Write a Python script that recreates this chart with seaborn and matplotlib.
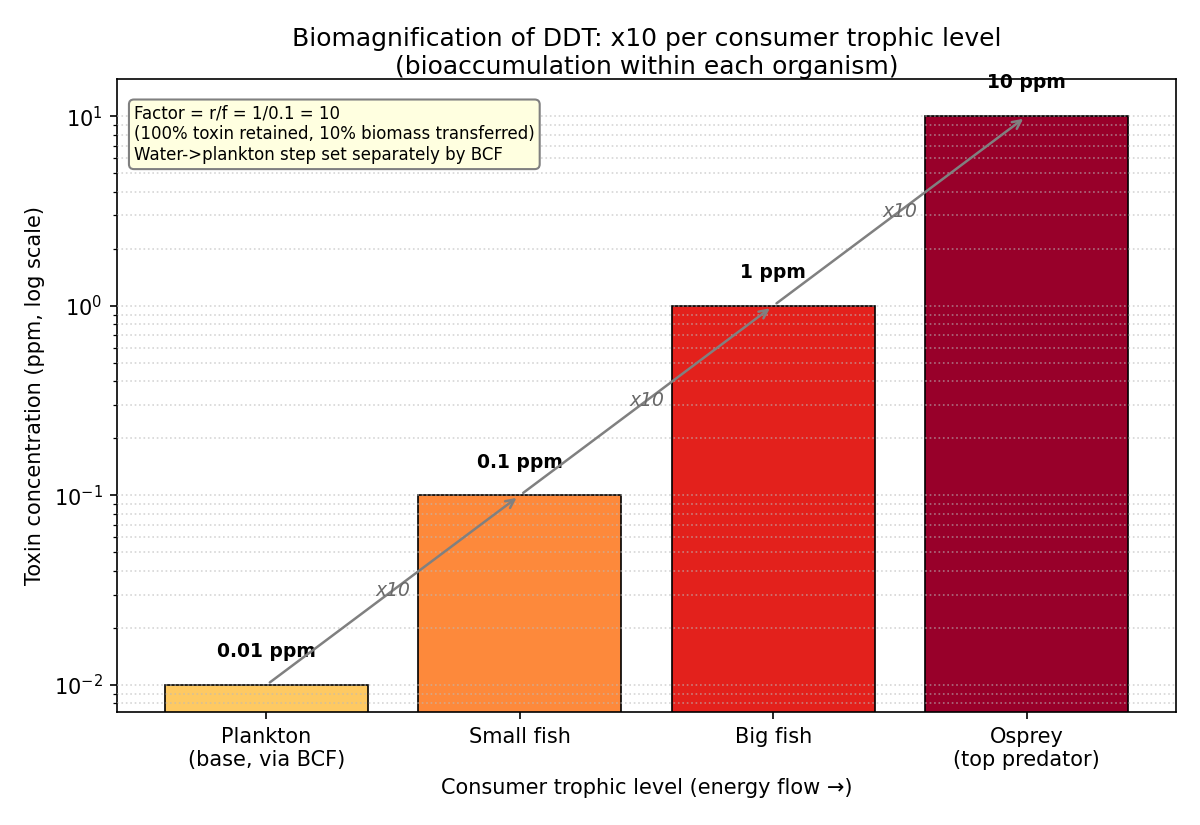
import numpy as np
import pandas as pd
import matplotlib
matplotlib.use('Agg')
import matplotlib.pyplot as plt
import seaborn as sns

# dados
niveis = ['Plankton\n(base, via BCF)', 'Small fish', 'Big fish', 'Osprey\n(top predator)']
ppm = [0.01, 0.1, 1, 10]
rotulos = ['0.01 ppm', '0.1 ppm', '1 ppm', '10 ppm']
cores = ['#fec962', '#fd893b', '#e3211c', '#98002a']

df = pd.DataFrame({'nivel': niveis, 'ppm': ppm})

fig, ax = plt.subplots(figsize=(8, 5.5), dpi=150)
ax.set_yscale('log')

sns.barplot(data=df, x='nivel', y='ppm', hue='nivel', palette=cores,
            edgecolor='black', linewidth=0.8, width=0.8, saturation=1,
            legend=False, ax=ax)

# gridlines por cima das barras
ax.set_axisbelow(False)
ax.grid(True, which='both', axis='y', linestyle=':', color='#bbbbbb',
        linewidth=0.8, alpha=0.6)

# rótulos dos valores
for i, v in enumerate(ppm):
    ax.text(i, v * 1.5, rotulos[i], ha='center', va='center',
            fontsize=9, fontweight='bold')

# setas x10 entre níveis
for i in range(len(ppm) - 1):
    ax.annotate('', xy=(i + 1, ppm[i + 1]), xytext=(i, ppm[i]),
                arrowprops=dict(arrowstyle='->', color='gray', lw=1.2))
    ax.text(i + 0.5, np.sqrt(ppm[i] * ppm[i + 1]), 'x10', ha='center', va='center',
            fontsize=9, style='italic', color='dimgray')

ax.text(0.016, 0.96,
        'Factor = r/f = 1/0.1 = 10\n(100% toxin retained, 10% biomass transferred)\n'
        'Water->plankton step set separately by BCF',
        transform=ax.transAxes, ha='left', va='top', fontsize=8,
        bbox=dict(boxstyle='round', facecolor='lightyellow', edgecolor='gray'))

ax.set_ylim(0.0072, 15.7)
ax.set_xlim(-0.59, 3.59)
ax.set_title('Biomagnification of DDT: x10 per consumer trophic level\n'
             '(bioaccumulation within each organism)', fontsize=12, pad=2)
ax.set_xlabel('Consumer trophic level (energy flow →)')
ax.set_ylabel('Toxin concentration (ppm, log scale)')

plt.subplots_adjust(left=0.0975, right=0.98, top=0.904, bottom=0.137)
plt.savefig('out.png', dpi=150)
